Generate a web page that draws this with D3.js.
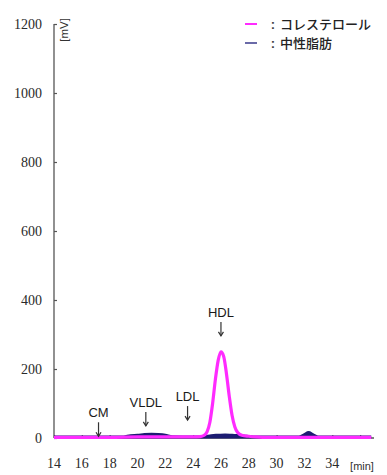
<!DOCTYPE html>
<html>
<head>
<meta charset="utf-8">
<script src="https://cdn.jsdelivr.net/npm/d3@7"></script>
<style>
  html, body { margin: 0; padding: 0; background: #fff; }
  svg { display: block; }
</style>
</head>
<body>
<script>
// Elution time (min) and detector response (mV) for each trace
const cholTime = [14, 16, 18, 20, 22, 23, 24, 24.5, 24.8, 25, 25.2, 25.4, 25.6, 25.8, 26, 26.2, 26.4, 26.6, 26.8, 27, 27.2, 27.5, 28, 28.5, 29, 30, 32, 34, 36, 36.8];
const cholValue = [2, 2, 2, 3, 3, 3, 3, 4, 8, 18, 45, 100, 170, 225, 250, 236, 185, 120, 65, 32, 16, 8, 5, 3, 2, 2, 2, 2, 2, 2];

const tgTime = [14, 19, 19.5, 20, 20.5, 21, 21.5, 22, 22.5, 24, 24.8, 25.3, 25.8, 26.3, 26.8, 27.3, 27.8, 28.3, 30, 31.6, 32, 32.3, 32.6, 33, 34, 36.8];
const tgValue = [0, 0, 4, 5, 7, 8, 7, 5, 1, 0, 1, 4, 5, 6, 5, 4, 2, 0, 0, 0, 7, 13, 7, 0, 0, 0];

// Lipoprotein fractions marked above the trace
const fracNames = ["CM", "VLDL", "LDL", "HDL"];
const fracTime = [17.2, 20.6, 23.6, 26];
const fracTip = [5, 35, 52, 296];

const xTicks = [14, 16, 18, 20, 22, 24, 26, 28, 30, 32, 34, 36];
const yTicks = [0, 200, 400, 600, 800, 1000, 1200];

const seriesNames = ["コレステロール", "中性脂肪"];
const seriesColors = ["#ff2bff", "#1c1c72"];

const W = 387, H = 475;
const svg = d3.select("body").append("svg").attr("width", W).attr("height", H);

const x = d3.scaleLinear().domain([14, 37]).range([54, 374]);
const y = d3.scaleLinear().domain([0, 1200]).range([438, 24]);

const axisColor = "#555";
const serif = "Liberation Serif, DejaVu Serif, serif";
const sans = "Liberation Sans, Arial, sans-serif";

// Y axis: ticks pointing inward
const yAxis = svg.append("g").attr("transform", `translate(${x(14)},0)`)
  .call(d3.axisRight(y).tickValues(yTicks).tickSize(3).tickFormat(""));
yAxis.select(".domain").attr("stroke", axisColor).attr("stroke-width", 1.3).attr("d", `M0,${y(1200)}V${y(0)}`);
yAxis.selectAll(".tick line").attr("stroke", axisColor).attr("stroke-width", 1.2);

svg.append("g").selectAll("text").data(yTicks).join("text")
  .attr("x", 42).attr("y", d => y(d) + 5)
  .attr("text-anchor", "end")
  .attr("font-family", serif).attr("font-size", 14).attr("fill", "#2a2a2a")
  .text(d => d);

// X axis: ticks pointing up into the plot
const xAxis = svg.append("g").attr("transform", `translate(0,${y(0)})`)
  .call(d3.axisTop(x).tickValues(xTicks).tickSize(3).tickFormat(""));
xAxis.select(".domain").attr("stroke", axisColor).attr("stroke-width", 1.3).attr("d", `M${x(14)},0H${x(37)}`);
xAxis.selectAll(".tick line").attr("stroke", axisColor).attr("stroke-width", 1.2);

svg.append("g").selectAll("text").data(xTicks.slice(0, -1)).join("text")
  .attr("x", d => x(d)).attr("y", 468)
  .attr("text-anchor", "middle")
  .attr("font-family", serif).attr("font-size", 14).attr("fill", "#2a2a2a")
  .text(d => d);

svg.append("text").attr("x", 362).attr("y", 470).attr("text-anchor", "middle")
  .attr("font-family", sans).attr("font-size", 11).attr("fill", "#333").text("[min]");

svg.append("text").attr("transform", `translate(68,30) rotate(-90)`)
  .attr("text-anchor", "middle")
  .attr("font-family", sans).attr("font-size", 11.5).attr("fill", "#333").text("[mV]");

// Triglyceride trace (filled bumps under the cholesterol line)
const tgData = tgTime.map((t, i) => [t, tgValue[i]]);
svg.append("path").datum(tgData)
  .attr("fill", seriesColors[1])
  .attr("stroke", seriesColors[1]).attr("stroke-width", 3)
  .attr("d", d3.area().x(d => x(d[0])).y0(y(0) - 1).y1(d => y(d[1]) - 1).curve(d3.curveMonotoneX));

// Cholesterol trace
const cholData = cholTime.map((t, i) => [t, cholValue[i]]);
svg.append("path").datum(cholData)
  .attr("fill", "none")
  .attr("stroke", seriesColors[0]).attr("stroke-width", 3.2).attr("stroke-linejoin", "round")
  .attr("d", d3.line().x(d => x(d[0])).y(d => y(d[1])).curve(d3.curveMonotoneX));

// Fraction labels with down arrows
const ann = svg.append("g");
fracNames.forEach((name, i) => {
  const ax = x(fracTime[i]);
  const tip = y(fracTip[i]);
  const g = ann.append("g");
  g.append("line").attr("x1", ax).attr("x2", ax).attr("y1", tip - 14).attr("y2", tip)
    .attr("stroke", "#333").attr("stroke-width", 1.2);
  g.append("path").attr("d", `M${ax - 2.5},${tip - 4}L${ax},${tip}L${ax + 2.5},${tip - 4}`)
    .attr("fill", "none").attr("stroke", "#333").attr("stroke-width", 1.2);
  g.append("text").attr("x", ax).attr("y", tip - 19)
    .attr("text-anchor", "middle")
    .attr("font-family", sans).attr("font-size", 13).attr("fill", "#1a1a1a")
    .text(name);
});

// Legend
const legend = svg.append("g");
seriesNames.forEach((name, i) => {
  const ly = 24 + i * 19;
  legend.append("line").attr("x1", 245).attr("x2", 257).attr("y1", ly).attr("y2", ly)
    .attr("stroke", i === 0 ? seriesColors[0] : "#6a6aa8").attr("stroke-width", 2);
  legend.append("text").attr("x", 273).attr("y", ly + 4.5)
    .attr("text-anchor", "middle")
    .attr("font-family", sans).attr("font-size", 13).attr("font-weight", "bold").attr("fill", "#444")
    .text(":");
  legend.append("text").attr("x", 280).attr("y", ly + 5)
    .attr("font-family", "Noto Sans CJK JP, sans-serif").attr("font-size", 13)
    .attr("font-weight", 500).attr("fill", "#222")
    .text(name);
});
</script>
</body>
</html>
